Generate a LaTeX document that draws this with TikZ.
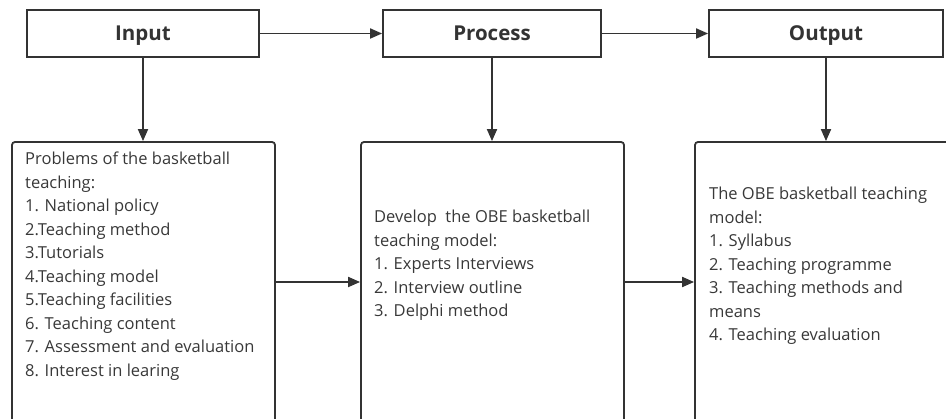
\documentclass[tikz,border=0pt]{standalone}
\usepackage{fontspec}
\setmainfont{Open Sans}
\usetikzlibrary{arrows.meta}

\definecolor{linegray}{HTML}{333333}
\definecolor{textgray}{HTML}{383838}

\tikzset{
  stage/.style={draw=linegray, line width=1.8pt, minimum height=47pt, inner sep=0pt,
    text height=15pt, text depth=0pt,
    font=\fontsize{20.5}{24}\selectfont\bfseries, text=linegray},
  panel/.style={draw=linegray, line width=1.8pt, rounded corners=3pt, inner sep=0pt},
  listing/.style={anchor=north west, inner sep=0pt, align=left, text=textgray,
    font=\fontsize{16.5}{23.5}\selectfont},
  flow/.style={draw=linegray, line width=1.8pt, -{Triangle[length=12pt,width=10pt]}}
}

\begin{document}
\begin{tikzpicture}[x=1pt, y=-1pt]
  \useasboundingbox (0,0) rectangle (946,419);
  \clip (0,0) rectangle (946,419);
  % stages
  \node[stage, minimum width=232pt] (input) at (143,33.5) {Input};
  \node[stage, minimum width=218pt] (process) at (492,33.5) {Process};
  \node[stage, minimum width=234pt] (output) at (826,33.5) {Output};
  % panels, cut off by the lower edge
  \node[panel, minimum width=263pt, minimum height=280pt] (problems) at (143.5,282) {};
  \node[panel, minimum width=263pt, minimum height=280pt] (develop) at (492.5,282) {};
  \node[panel, minimum width=270pt, minimum height=280pt] (model) at (830,282) {};
  % texts
  \node[listing] (problemstext) at (25,152) {Problems of the basketball\\teaching:\\1. National policy\\2.Teaching method\\3.Tutorials\\4.Teaching model\\5.Teaching facilities\\6. Teaching content\\7. Assessment and evaluation\\8. Interest in learing};
  \node[listing] (developtext) at (374,210) {Develop\ \ the OBE basketball\\teaching model:\\1. Experts Interviews\\2. Interview outline\\3. Delphi method};
  \node[listing] (modeltext) at (709,187) {The OBE basketball teaching\\model:\\1. Syllabus\\2. Teaching programme\\3. Teaching methods and\\means\\4. Teaching evaluation};
  % connectors
  \draw[flow] (input) -- (process);
  \draw[flow] (process) -- (output);
  \draw[flow] (input) -- (input |- problems.north);
  \draw[flow] (process) -- (process |- develop.north);
  \draw[flow] (output) -- (output |- model.north);
  \draw[flow] (problems) -- (develop);
  \draw[flow] (develop.east) -- (model.west |- develop.east);
\end{tikzpicture}
\end{document}
